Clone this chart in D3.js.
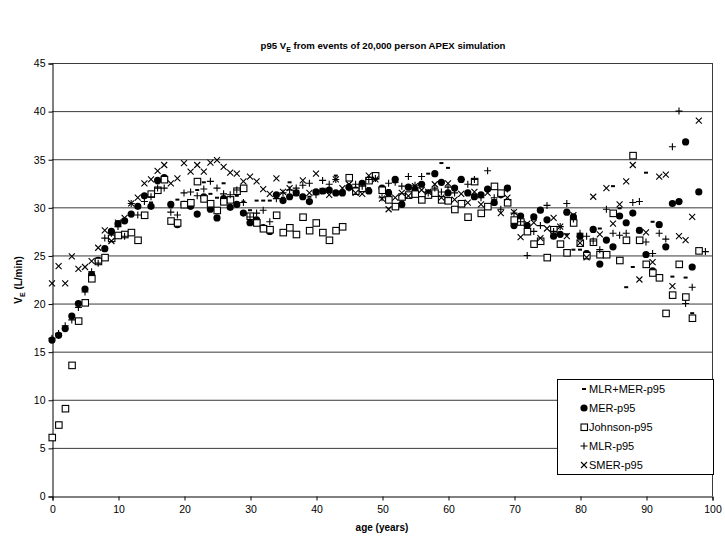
<!DOCTYPE html>
<html><head><meta charset="utf-8">
<script src="https://cdn.jsdelivr.net/npm/d3@7"></script>
<style>body{margin:0;background:#fff}svg{display:block}text{font-family:"Liberation Sans",Arial,sans-serif}</style>
</head><body><div id="chart"></div>
<script>
const ages = d3.range(0, 100);
const xTicks = [0,10,20,30,40,50,60,70,80,90,100];
const yTicks = [0,5,10,15,20,25,30,35,40,45];
const seriesNames = ["MLR+MER-p95","MER-p95","Johnson-p95","MLR-p95","SMER-p95"];

const mlrMer = [16.3,16.8,17.5,18.6,19.9,21.4,23.0,24.6,25.9,27.4,28.2,28.5,29.2,30.2,31.0,30.5,32.5,32.9,30.0,30.8,
30.4,30.3,31.8,32.6,31.4,31.0,32.5,31.0,31.2,30.6,29.7,30.7,30.7,30.7,31.3,31.0,32.6,31.6,31.3,31.1,
31.5,31.7,31.9,33.3,31.7,32.1,32.0,32.4,32.0,32.9,32.2,31.8,32.6,30.6,32.0,31.9,32.3,33.5,33.6,34.6,
34.1,32.0,32.7,31.6,31.3,31.4,31.8,30.7,31.2,30.7,28.3,28.9,28.2,28.8,29.5,28.8,27.2,27.3,27.2,25.6,
25.6,25.4,27.5,27.8,26.7,32.2,29.9,21.7,23.8,27.8,33.6,28.5,28.0,26.0,22.8,30.4,22.7,19.0,null,null];

const mer = [16.2,16.7,17.4,18.7,20.0,21.5,23.0,24.5,25.7,27.5,28.3,28.6,29.3,30.1,31.2,30.1,32.8,33.1,30.3,28.2,
30.3,30.1,29.3,31.1,29.8,28.9,30.9,30.0,30.3,29.4,28.4,28.7,27.9,27.5,31.3,30.7,31.1,31.5,31.1,30.6,
31.6,31.7,31.8,31.5,31.5,32.1,31.8,32.5,31.7,33.2,32.0,31.5,32.9,30.3,32.1,31.9,32.4,31.5,33.5,32.6,
31.5,32.0,32.9,31.5,31.1,31.3,31.9,30.5,31.3,32.0,28.1,29.1,28.1,29.0,29.7,28.7,27.0,27.2,29.5,29.0,
27.0,25.2,27.7,24.1,26.6,25.9,29.1,28.4,29.4,27.6,25.1,23.4,28.2,25.9,30.4,30.6,36.8,23.8,31.6,null];

const johnson = [6.1,7.4,9.1,13.6,18.2,20.1,22.6,24.4,24.8,26.8,27.1,27.2,27.4,26.6,29.2,31.4,31.8,32.9,28.6,28.4,
30.3,30.5,32.7,30.9,30.4,29.7,30.6,30.8,31.7,32.0,29.1,28.4,27.8,27.7,29.2,27.4,27.9,27.2,29.0,27.6,
28.4,27.4,26.6,27.6,28.0,33.1,31.7,32.0,32.8,33.3,31.8,30.8,30.1,31.1,31.3,31.4,30.8,31.3,31.5,30.8,
30.7,29.8,30.4,29.0,32.7,29.4,30.1,32.2,31.5,30.5,28.7,28.5,27.5,26.2,26.5,24.8,27.7,26.2,25.3,28.4,
26.3,25.0,26.4,25.1,25.1,29.4,24.5,26.6,35.4,26.6,24.1,23.2,22.7,19.0,20.9,24.1,20.7,18.5,25.5,null];

const mlr = [16.4,16.9,17.7,18.3,19.6,21.2,23.3,24.2,26.8,27.3,28.0,27.0,30.4,29.2,30.6,31.1,32.0,32.0,29.5,29.2,
31.5,31.6,31.2,31.9,32.7,32.0,31.4,31.3,31.8,30.5,29.0,29.4,29.7,28.5,30.9,31.5,31.8,32.0,32.3,32.5,
31.3,32.8,32.4,32.9,31.6,32.0,32.4,32.2,32.9,33.0,31.0,32.5,32.6,32.2,33.2,32.3,33.2,31.5,32.0,31.6,
32.1,31.5,32.9,32.4,32.9,31.0,33.8,31.0,29.8,31.9,29.4,28.5,25.0,27.5,28.1,30.2,27.5,28.0,30.4,28.8,
27.3,27.0,26.5,25.6,29.8,27.3,27.1,27.3,30.5,30.6,26.4,25.2,27.3,26.7,36.3,40.0,20.0,21.7,null,25.4];

const smer = [22.1,23.9,22.1,24.9,23.6,23.8,24.4,25.8,27.6,26.5,28.4,28.9,30.4,31.0,32.5,32.9,33.8,34.4,32.5,33.0,
34.6,33.7,34.4,33.7,34.65,34.9,34.2,33.6,33.5,32.7,33.2,32.7,31.9,31.4,33.0,31.6,32.0,31.5,32.8,31.5,
33.5,31.7,31.3,32.9,32.0,32.4,31.5,31.4,33.3,32.9,30.9,29.8,31.0,31.5,31.2,32.2,31.8,31.6,32.4,31.0,
32.5,30.8,31.4,30.5,31.6,30.3,31.5,30.6,29.4,31.0,29.5,26.9,28.3,28.4,26.8,27.8,28.9,28.0,27.0,29.2,
26.3,24.8,31.1,27.2,32.0,28.3,30.3,32.7,34.4,22.5,27.4,24.3,33.2,33.4,21.8,27.0,26.6,29.0,39.0,null];

const W = 725, H = 542;
const svg = d3.select("#chart").append("svg").attr("width", W).attr("height", H);
const x = d3.scaleLinear().domain([0,100]).range([52,712]);
const y = d3.scaleLinear().domain([0,45]).range([496,63]);

// gridlines
svg.append("g").selectAll("line").data(yTicks.filter(v=>v>0)).join("line")
  .attr("x1", x(0)).attr("x2", x(100)).attr("y1", d=>y(d)+0.5).attr("y2", d=>y(d)+0.5)
  .attr("stroke", "#3a3a3a").attr("stroke-width", 1);
// right border
svg.append("line").attr("x1", x(100)+0.5).attr("x2", x(100)+0.5).attr("y1", y(45)).attr("y2", y(0))
  .attr("stroke", "#3a3a3a");

const yAxis = svg.append("g").attr("transform", `translate(${x(0)+0.5},0.5)`)
  .call(d3.axisLeft(y).tickValues(yTicks).tickSize(4).tickPadding(3));
const xAxis = svg.append("g").attr("transform", `translate(0.5,${y(0)+0.5})`)
  .call(d3.axisBottom(x).tickValues(xTicks).tickSize(4).tickPadding(5));
[yAxis, xAxis].forEach(a => {
  a.selectAll("path,line").attr("stroke", "#000");
  a.selectAll("text").attr("font-size", "10.5px").attr("fill", "#000")
   .attr("font-family", '"Liberation Sans", Arial, sans-serif');
});

// marker drawing
const ink = "#000";
function drawMarker(g, type) {
  if (type === 0) {
    g.append("rect").attr("x", -2).attr("y", -1).attr("width", 4).attr("height", 2).attr("fill", ink);
  } else if (type === 1) {
    g.append("circle").attr("r", 3.6).attr("fill", ink);
  } else if (type === 2) {
    g.append("rect").attr("x", -3).attr("y", -3).attr("width", 6.5).attr("height", 6.5)
      .attr("fill", "#fff").attr("stroke", ink).attr("stroke-width", 1.1);
  } else if (type === 3) {
    g.append("path").attr("d", "M-3.5,0H3.5M0,-3.5V3.5").attr("stroke", ink).attr("stroke-width", 1.1).attr("fill", "none");
  } else {
    g.append("path").attr("d", "M-3,-3L3,3M-3,3L3,-3").attr("stroke", ink).attr("stroke-width", 1.1).attr("fill", "none");
  }
}

const allSeries = [mlrMer, mer, johnson, mlr, smer];
allSeries.forEach((vals, si) => {
  const pts = ages.map((a, i) => ({a, v: vals[i]})).filter(d => d.v !== null && d.v !== undefined);
  svg.append("g").selectAll("g").data(pts).join("g")
    .attr("transform", d => `translate(${x(d.a)},${y(d.v)})`)
    .each(function(){ drawMarker(d3.select(this), si); });
});

// title
const title = svg.append("text").attr("x", 383).attr("y", 49).attr("text-anchor", "middle")
  .attr("font-size", "9.6px").attr("font-weight", "bold");
title.append("tspan").text("p95 V");
title.append("tspan").attr("font-size", "7px").attr("dy", 2.5).text("E");
title.append("tspan").attr("dy", -2.5).text(" from events of 20,000 person APEX simulation");

// x label
svg.append("text").attr("x", 382).attr("y", 531).attr("text-anchor", "middle")
  .attr("font-size", "10px").attr("font-weight", "bold").text("age (years)");
// y label
const yl = svg.append("text").attr("transform", "translate(22,280) rotate(-90)").attr("text-anchor", "middle")
  .attr("font-size", "10px").attr("font-weight", "bold");
yl.append("tspan").text("V");
yl.append("tspan").attr("font-size", "7px").attr("dy", 2.5).text("E");
yl.append("tspan").attr("dy", -2.5).text(" (L/min)");

// legend
const lg = svg.append("g");
lg.append("rect").attr("x", 557.5).attr("y", 379.5).attr("width", 156).attr("height", 95)
  .attr("fill", "#fff").attr("stroke", "#000");
seriesNames.forEach((name, i) => {
  const ly = 389 + i * 19;
  const g = lg.append("g").attr("transform", `translate(584,${ly})`);
  drawMarker(g, i);
  lg.append("text").attr("x", 589).attr("y", ly + 4).attr("font-size", "11px").text(name);
});
</script>
</body></html>
